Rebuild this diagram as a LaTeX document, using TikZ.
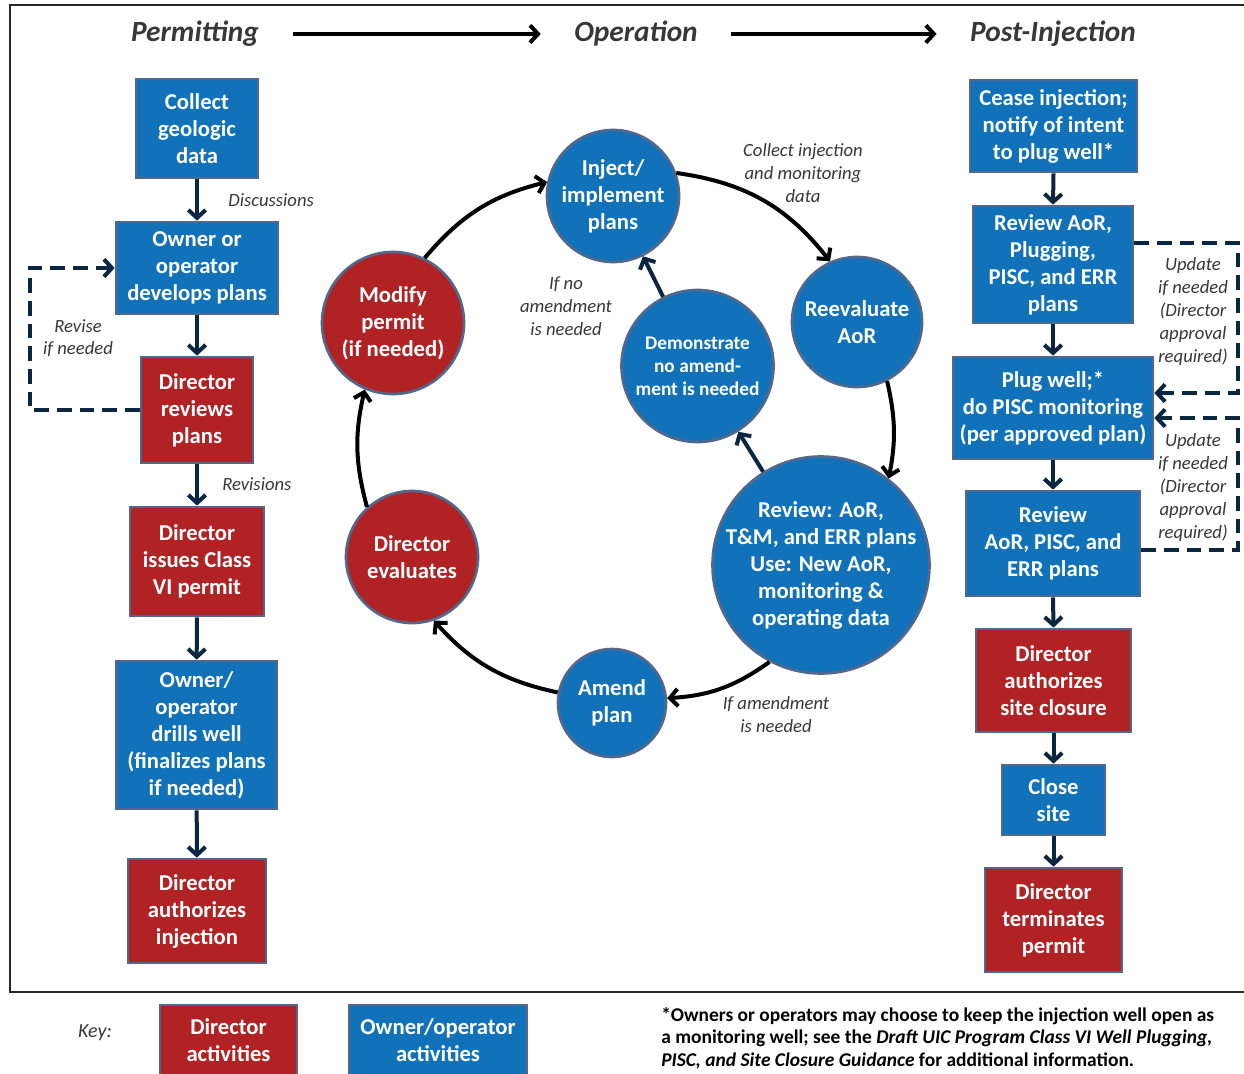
\documentclass[tikz,border=0pt]{standalone}
\usepackage{fontspec}
\setmainfont{Carlito}
\usetikzlibrary{arrows.meta}
\definecolor{cblue}{HTML}{1172BA}
\definecolor{cred}{HTML}{B02224}
\definecolor{cborder}{HTML}{52678C}
\definecolor{cnavy}{HTML}{0B2641}
\definecolor{cgray}{HTML}{383838}
\begin{document}
\begin{tikzpicture}[x=0.75pt,y=0.75pt,
  boxbase/.style={rectangle, draw=cborder, line width=2pt, text=white, align=center, inner sep=0pt,
    font=\bfseries\fontsize{17}{20.25}\selectfont},
  bbox/.style={boxbase, fill=cblue},
  rbox/.style={boxbase, fill=cred},
  circbase/.style={circle, draw=cborder, line width=2pt, inner sep=0pt},
  bcirc/.style={circbase, fill=cblue},
  rcirc/.style={circbase, fill=cred},
  ctext/.style={text=white, align=center, inner sep=0pt, font=\bfseries\fontsize{17}{20.25}\selectfont},
  lbl/.style={text=cgray, align=center, inner sep=0pt, font=\itshape\fontsize{14}{17.25}\selectfont},
  hdr/.style={text=cgray, inner sep=0pt, font=\bfseries\itshape\fontsize{22}{26}\selectfont},
  navarr/.style={draw=cnavy, line width=3pt, -{Straight Barb[length=6pt,width=13pt]}},
  blkarr/.style={draw=black, line width=3pt, -{Straight Barb[length=6pt,width=13pt]}},
  hdrarr/.style={draw=black, line width=3pt, -{Straight Barb[length=6pt,width=13pt]}, shorten <=25pt, shorten >=25pt},
  dasharr/.style={draw=cnavy, line width=3pt, dash pattern=on 11pt off 6pt, -{Straight Barb[length=6pt,width=13pt]}}
]
\useasboundingbox (0,0) rectangle (1244,-1073);
\fill[white] (0,0) rectangle (1244,-1073);
% frame
\draw[line width=1.6pt, black!85] (1244,-5) -- (10,-5) -- (10,-992) -- (1244,-992);

% headers
\node[hdr] (h1) at (195,-34) {Permitting};
\node[hdr] (h2) at (636,-34) {Operation};
\node[hdr] (h3) at (1053,-34) {Post-Injection};
\draw[hdrarr] (h1) -- (h2);
\draw[hdrarr] (h2) -- (h3);

% left column
\node[bbox, minimum width=91.5pt, minimum height=74.25pt] (l1) at (197,-128.5) {Collect\\geologic\\data};
\node[bbox, minimum width=121.5pt, minimum height=69pt] (l2) at (197,-268) {Owner or\\operator\\develops plans};
\node[rbox, minimum width=84pt, minimum height=79.5pt] (l3) at (197,-410) {Director\\reviews\\plans};
\node[rbox, minimum width=100.5pt, minimum height=81.75pt] (l4) at (197,-561.5) {Director\\issues Class\\VI permit};
\node[bbox, minimum width=120.75pt, minimum height=111pt] (l5) at (196.5,-735) {Owner/\\operator\\drills well\\(finalizes plans\\if needed)};
\node[rbox, minimum width=103.5pt, minimum height=78pt] (l6) at (197,-911) {Director\\authorizes\\injection};
\draw[navarr] (l1) -- (l2);
\draw[navarr] (l2) -- (l3);
\draw[navarr] (l3) -- (l4);
\draw[navarr] (l4) -- (l5);
\draw[navarr] (l5) -- (l6);
\node[lbl, anchor=west] (disc) at (228,-200) {Discussions};
\node[lbl, anchor=west] (revs) at (222,-484) {Revisions};
\node[lbl] (revise) at (78,-338) {Revise\\[-1pt]if needed};
\coordinate (lc) at (30,-410);
\draw[dasharr] (l3.west) -- (lc) |- (l2.west);

% middle circles
\node[bcirc, minimum size=99pt] (inj) at (613,-196) {};
\node[ctext] at (inj) {Inject/\\implement\\plans};
\node[bcirc, minimum size=97.5pt] (reev) at (857,-322) {};
\node[ctext] at (reev) {Reevaluate\\AoR};
\node[bcirc, minimum size=162.75pt] (rev) at (821,-565) {};
\node[ctext] at (rev) {Review: AoR,\\T\&M, and ERR plans\\Use: New AoR,\\monitoring \&\\operating data};
\node[bcirc, minimum size=81pt] (amd) at (612,-703) {};
\node[ctext] at (amd) {Amend\\plan};
\node[rcirc, minimum size=99pt] (deval) at (412,-557) {};
\node[ctext] at (deval) {Director\\evaluates};
\node[rcirc, minimum size=106.5pt] (mod) at (393,-323) {};
\node[ctext] at (mod) {Modify\\permit\\(if needed)};
\node[bcirc, minimum size=114pt] (dem) at (697.5,-366) {};
\node[ctext, font=\bfseries\fontsize{14.5}{17.25}\selectfont] at (dem) {Demonstrate\\no amend-\\ment is needed};

\draw[blkarr] (mod.64) to[bend left=18] (inj.168);
\draw[blkarr] (inj.20) to[bend left=22] (reev.114);
\draw[blkarr] (reev.-63) to[bend left=12] (rev.52);
\draw[blkarr] (rev.-118) to[bend left=16] (amd.5);
\draw[blkarr] (amd.169) to[bend left=18] (deval.-71);
\draw[blkarr] (deval.132) to[bend left=14] (mod.-113);
\draw[navarr] (rev) -- (dem);
\draw[navarr] (dem) -- (inj);

\node[lbl] (lcoll) at (803,-173) {Collect injection\\and monitoring\\data};
\node[lbl] (lnoam) at (566,-306) {If no\\amendment\\is needed};
\node[lbl] (lam) at (776,-715) {If amendment\\is needed};

% right column
\node[bbox, minimum width=125.25pt, minimum height=69pt] (r1) at (1053.5,-126) {Cease injection;\\notify of intent\\to plug well*};
\node[bbox, minimum width=120pt, minimum height=87.75pt] (r2) at (1053,-264.5) {Review AoR,\\Plugging,\\PISC, and ERR\\plans};
\node[bbox, minimum width=150pt, minimum height=76.5pt] (r3) at (1053,-408) {Plug well;*\\do PISC monitoring\\(per approved plan)};
\node[bbox, minimum width=130.5pt, minimum height=78.75pt] (r4) at (1053,-543.5) {Review\\AoR, PISC, and\\ERR plans};
\node[rbox, minimum width=116.25pt, minimum height=77.25pt] (r5) at (1053.5,-680.5) {Director\\authorizes\\site closure};
\node[bbox, minimum width=77.25pt, minimum height=52.5pt] (r6) at (1053.5,-800) {Close\\site};
\node[rbox, minimum width=102.75pt, minimum height=78pt] (r7) at (1053.5,-920) {Director\\terminates\\permit};
\draw[navarr] (r1.south) -- (r2.north);
\draw[navarr] (r2.south) -- (r3.north);
\draw[navarr] (r3.south) -- (r4.north);
\draw[navarr] (r4.south) -- (r5.north);
\draw[navarr] (r5.south) -- (r6.north);
\draw[navarr] (r6.south) -- (r7.north);

\coordinate (ra) at (1238,-243);
\coordinate (rb) at (1238,-393);
\coordinate (rc) at (1238,-550);
\coordinate (rd) at (1238,-418);
\draw[dasharr] (r2.east |- ra) -- (ra) -- (rb) -- (r3.east |- rb);
\draw[dasharr] (r4.east |- rc) -- (rc) -- (rd) -- (r3.east |- rd);
\node[lbl] (up1) at (1193,-312) {Update\\if needed\\(Director\\approval\\required)};
\node[lbl] (up2) at (1193,-488) {Update\\if needed\\(Director\\approval\\required)};

% key
\node[lbl, font=\itshape\fontsize{15}{18}\selectfont] (key) at (95,-1033) {Key:};
\node[rbox, minimum width=102.75pt, minimum height=60pt] (k1) at (228.5,-1045) {};
\node[ctext] (k1t) at (228.5,-1040) {Director\\activities};
\node[bbox, minimum width=133.5pt, minimum height=60pt] (k2) at (438,-1045) {};
\node[ctext] (k2t) at (438,-1040) {Owner/operator\\activities};

\node[anchor=north west, align=left, inner sep=0pt, text=black, font=\bfseries\fontsize{14.6}{16.9}\selectfont] (foot) at (661,-1007)
 {*Owners or operators may choose to keep the injection well open as\\
  a monitoring well; see the \textit{Draft UIC Program Class VI Well Plugging,}\\
  \textit{PISC, and Site Closure Guidance} for additional information.};
\end{tikzpicture}
\end{document}
